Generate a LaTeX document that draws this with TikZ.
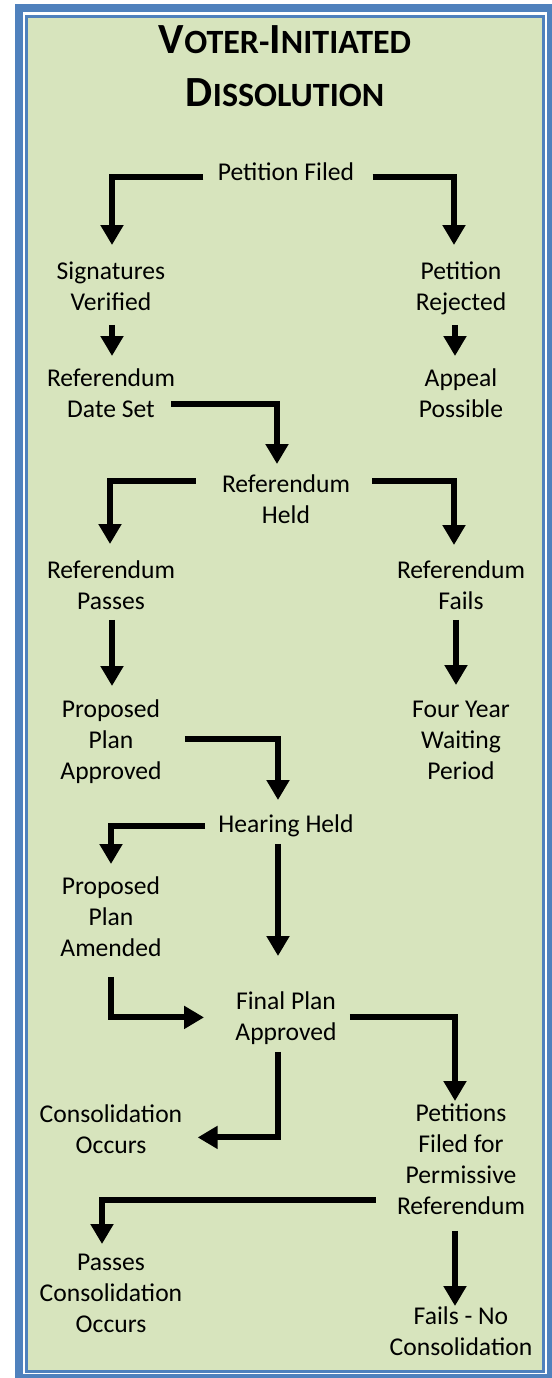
\documentclass[tikz,border=0pt]{standalone}
\usepackage{fontspec}
\setmainfont{Carlito}
\usepackage{tikz}
\usetikzlibrary{
  arrows.meta,
  calc
}
\definecolor{frameblue}{HTML}{4F81BD}
\definecolor{panelgreen}{HTML}{D7E4BD}
\newcommand{\rowstrut}{\vrule height 11pt depth 4.5pt width 0pt}
\newcommand{\titlestrut}{\vrule height 20pt depth 6.5pt width 0pt}
\newcommand{\smallcap}[1]{{\fontsize{17pt}{26.5pt}\selectfont #1}}

\begin{document}
\begin{tikzpicture}[
    x=0.5pt,
    y=-0.5pt,
    >={Triangle[width=11pt,length=10pt]},
    stage/.style={
      anchor=north,
      inner sep=0pt,
      align=center,
      font=\fontsize{12.8pt}{15.5pt}\selectfont,
      execute at end node=\rowstrut
      },
    heading/.style={
      anchor=north,
      inner sep=0pt,
      align=center,
      font=\fontsize{21.5pt}{26.5pt}\selectfont\bfseries,
      execute at end node=\titlestrut
      },
    flow/.style={
      ->,
      line width=3pt
      }
    ]
    
    \useasboundingbox (0,0) rectangle (552,1378);
    \fill[white] (0,0) rectangle (552,1378);
    
    % frame
    \fill[frameblue] (14.8,4) rectangle (552,1378);
    \fill[white] (23,12) rectangle (547,1374);
    \fill[frameblue] (25,14.5) rectangle (545,1372.5);
    \fill[panelgreen] (28,17.5) rectangle (542,1370);
    
    \node[heading] (title) at (285,13)
    {\titlestrut V\smallcap{OTER-}I\smallcap{NITIATED}\\D\smallcap{ISSOLUTION}};
    
    \node[stage] (filed) at (286,158) {\rowstrut Petition Filed};
    \node[stage] (verified) at (111,257) {\rowstrut Signatures\\Verified};
    \node[stage] (rejected) at (461,257) {\rowstrut Petition\\Rejected};
    \node[stage] (dateset) at (111,364) {\rowstrut Referendum\\Date Set};
    \node[stage] (appeal) at (461,364) {\rowstrut Appeal\\Possible};
    \node[stage] (held) at (286,470) {\rowstrut Referendum\\Held};
    \node[stage] (passes) at (111,556) {\rowstrut Referendum\\Passes};
    \node[stage] (fails) at (461,556) {\rowstrut Referendum\\Fails};
    \node[stage] (approved) at (111,695) {\rowstrut Proposed\\Plan\\Approved};
    \node[stage] (waiting) at (461,695) {\rowstrut Four Year\\Waiting\\Period};
    \node[stage] (hearing) at (286,810) {\rowstrut Hearing Held};
    \node[stage] (amended) at (111,872) {\rowstrut Proposed\\Plan\\Amended};
    \node[stage] (final) at (286,987) {\rowstrut Final Plan\\Approved};
    \node[stage] (occurs) at (111,1100) {\rowstrut Consolidation\\Occurs};
    \node[stage] (permissive) at (461,1099)
    {\rowstrut Petitions\\Filed for\\Permissive\\Referendum};
    \node[stage] (passcons) at (111,1248)
    {\rowstrut Passes\\Consolidation\\Occurs};
    \node[stage] (nocons) at (461,1302) {\rowstrut Fails - No\\Consolidation};
    
    \draw[flow] ($(filed.west)+(-14,3.5)$) -| ($(verified.north)+(1,-12)$);
    \draw[flow] ($(filed.east)+(18,3.5)$) -| ($(rejected.north)+(-7,-12)$);
    \draw[flow] ($(verified.south)+(1,5)$) -- ($(dateset.north)+(1,-8)$);
    \draw[flow] ($(rejected.south)+(-6,5)$) -- ($(appeal.north)+(-6,-8)$);
    \draw[flow] ($(dateset.east)+(-4,8.5)$) -| ($(held.north)+(-9,-6)$);
    
    \draw[flow] ($(held.north west)+(-26,11)$) -| ($(passes.north)+(-1,-12)$);
    \draw[flow] ($(held.north east)+(22,11)$) -| ($(fails.north)+(-7,-11)$);
    \draw[flow] ($(passes.south)+(1,1)$) -- ($(approved.north)+(1,-9)$);
    \draw[flow] ($(fails.south)+(-5,1)$) -- ($(waiting.north)+(-5,-10)$);
    \draw[flow] ($(approved.east)+(23,-2.5)$) -| ($(hearing.north)+(-8,-10)$);
    
    \draw[flow] ($(hearing.west)+(-13,0.5)$) -| ($(amended.north)+(0,-8)$);
    \draw[flow] ($(hearing.south)+(-8,2)$) -- ($(final.north)+(-8,-31)$);
    \draw[flow] ($(amended.south)+(0,11)$) |- ($(final.west)+(-31,-1)$);
    \draw[flow] ($(final.east)+(13,-1)$) -| ($(permissive.north)+(-6,2)$);
    \draw[flow] ($(final.south)+(-8,2)$) |- ($(occurs.east)+(15,6)$);
    
    \draw[flow] ($(permissive.south west)+(-21,-24)$) -| ($(passcons.north)+(-9,-4)$);
    \draw[flow] ($(permissive.south)+(-6,7)$) -- ($(nocons.north)+(-6,4)$);
    
\end{tikzpicture}
\end{document}
